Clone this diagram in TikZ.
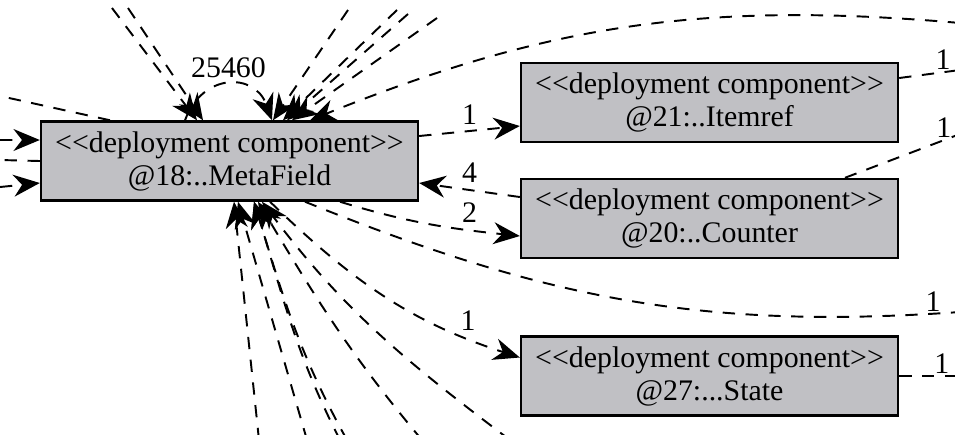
\documentclass[tikz,border=0pt]{standalone}
\usepackage{fontspec}
\setmainfont{Liberation Serif}
\usetikzlibrary{arrows.meta}
\definecolor{boxgray}{RGB}{192,192,196}
\tikzset{
    comp/.style={draw=black,line width=1.4pt,fill=boxgray,minimum width=7.54cm,minimum height=1.58cm,
        align=center,inner sep=0pt,font=\fontsize{17}{18.8}\selectfont},
    dep/.style={line width=1.1pt,dash pattern=on 7pt off 6pt},
    deparr/.style={dep,-{Stealth[length=15pt,width=12.5pt]}},
    lbl/.style={font=\fontsize{17}{18.8}\selectfont,inner sep=1pt},
}
\newcommand{\stereo}{<\kern0pt<deployment component>\kern0pt>}
\begin{document}
\begin{tikzpicture}[x=0.02cm,y=-0.02cm]
    \useasboundingbox (0,0) rectangle (955,434);
    \clip (0,0) rectangle (955,434);
    \node[comp] (meta) at (229.5,161) {\stereo\\@18:..MetaField};
    \node[comp] (item) at (709.5,102.5) {\stereo\\@21:..Itemref};
    \node[comp] (cnt) at (709.5,218.5) {\stereo\\@20:..Counter};
    \node[comp] (state) at (709.5,376) {\stereo\\@27:...State};
    \coordinate (left0) at (0,96);
    \coordinate (left1) at (0,140);
    \coordinate (left2) at (0,160);
    \coordinate (left3) at (0,187);
    \coordinate (tl1) at (112,8);
    \coordinate (tl2) at (128,8);
    \coordinate (tr1) at (348,10);
    \coordinate (tr2) at (397,10);
    \coordinate (tr3) at (408,14);
    \coordinate (tr4) at (437,18);
    \coordinate (far0) at (960,23);
    \coordinate (far1) at (960,70);
    \coordinate (far2) at (960,134);
    \coordinate (far3) at (960,312);
    \coordinate (far4) at (960,376);
    \coordinate (bot1) at (259,440);
    \coordinate (bot2) at (307,440);
    \coordinate (bot3) at (340,440);
    \coordinate (bot4) at (347,440);
    \coordinate (bot5) at (422,440);
    \coordinate (bot6) at (510,440);
    \draw[deparr] ([yshift=.5cm]meta.east) -- node[lbl,above=2pt] (lab1) {1} ([yshift=-.47cm]item.west);
    \draw[deparr] ([yshift=.43cm]cnt.west) -- node[lbl,above=3pt] (lab4) {4} ([yshift=-.44cm]meta.east);
    \draw[deparr] ([xshift=2.21cm]meta.south) to[out=-17,in=174] node[lbl,above=3pt,pos=.74] (lab2) {2} ([yshift=-.35cm]cnt.west);
    \draw[deparr] ([xshift=.81cm]meta.south) to[out=-44,in=162] node[lbl,above=3pt,pos=.83] (lab5) {1} ([yshift=.37cm]state.west);
    \draw[deparr] ([xshift=-.89cm]meta.north) to[out=70,in=110,looseness=1.5] node[lbl,above=2pt] (lab0) {25460} ([xshift=.85cm]meta.north);
    \draw[dep] ([xshift=1.51cm]meta.south) to[out=-22,in=184] node[lbl,above,pos=.965] (lab6) {1} (far3);
    \draw[dep] ([yshift=.49cm]item.east) -- node[lbl,above,pos=.72] (lab7) {1} (far1);
    \draw[dep] ([xshift=2.71cm]cnt.north) -- node[lbl,above,pos=.86] (lab8) {1} (far2);
    \draw[dep] (state.east) -- node[lbl,above,pos=.7] (lab9) {1} (far4);
    \draw[deparr] (far0) to[out=175,in=22] ([xshift=1.61cm]meta.north);
    \draw[deparr] (tl1) -- ([xshift=-.65cm]meta.north);
    \draw[deparr] (tl2) -- ([xshift=-.53cm]meta.north);
    \draw[deparr] (tr1) -- ([xshift=.87cm]meta.north);
    \draw[deparr] (tr2) -- ([xshift=1.07cm]meta.north);
    \draw[deparr] (tr3) -- ([xshift=1.15cm]meta.north);
    \draw[deparr] (tr4) -- ([xshift=1.25cm]meta.north);
    \draw[dep] ([xshift=-2.39cm]meta.north) -- (left0);
    \draw[deparr] (left1) -- ([yshift=.42cm]meta.west);
    \draw[dep] (meta.west) -- (left2);
    \draw[deparr] (left3) -- ([yshift=-.44cm]meta.west);
    \draw[deparr] (bot1) -- ([xshift=.09cm]meta.south);
    \draw[deparr] (bot2) -- ([xshift=.17cm]meta.south);
    \draw[deparr] (bot3) to[out=117,in=-73] ([xshift=.49cm]meta.south);
    \draw[deparr] (bot4) to[out=119,in=-73] ([xshift=.49cm]meta.south);
    \draw[deparr] (bot5) to[out=130,in=-59] ([xshift=.57cm]meta.south);
    \draw[deparr] (bot6) to[out=143,in=-53] ([xshift=.65cm]meta.south);
\end{tikzpicture}
\end{document}
